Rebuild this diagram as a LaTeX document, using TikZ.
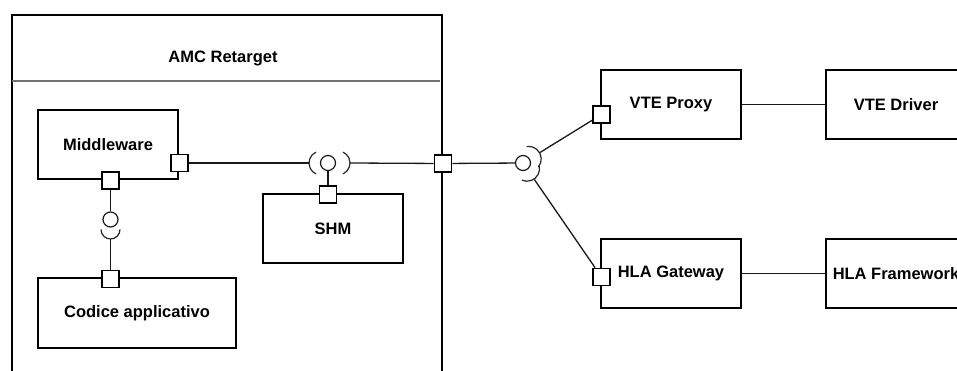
\documentclass[tikz,border=0pt]{standalone}
\usepackage{fontspec}
\setmainfont{Liberation Sans}
\usetikzlibrary{calc}

\begin{document}
\begin{tikzpicture}[x=1pt,y=1pt,
  comp/.style={draw=black, line width=2pt, minimum width=140pt, minimum height=69pt, inner sep=0pt, font=\fontsize{16.5}{19}\selectfont\bfseries},
  port/.style={draw=black, fill=white, line width=1.8pt, minimum size=17pt, inner sep=0pt},
  ball/.style={circle, draw=black!90, line width=1.2pt, minimum size=15pt, inner sep=0pt},
  wire/.style={draw=black!90, line width=1.3pt},
  sock/.style={draw=black!85, line width=1.2pt}]
\useasboundingbox (0,0) rectangle (957,-371);
\node[draw=black, line width=2pt, minimum width=430pt, minimum height=420pt, inner sep=0pt, anchor=north west] (ret) at (11,-14) {};
\node[font=\fontsize{16.5}{19}\selectfont\bfseries] (title) at (223,-58) {AMC Retarget};
\draw[black!55, line width=1.2pt] (12,-81) -- (440,-81);
\node[comp] (mw) at (108,-144.5) {Middleware};
\node[comp, minimum width=198pt, minimum height=70pt] (code) at (137,-313) {Codice applicativo};
\node[comp] (shm) at (333,-228.5) {SHM};
\node[comp] (vp) at (671,-104.5) {VTE Proxy};
\node[comp] (vd) at (896,-104.5) {VTE Driver};
\node[comp] (hg) at (671,-273.5) {HLA Gateway};
\node[comp] (hf) at (896,-273.5) {HLA Framework};
\node[port] (mwR) at (179.5,-163) {};
\node[port] (mwB) at (110.5,-180.5) {};
\node[port] (codeT) at (110.5,-279) {};
\node[port] (shmT) at (328,-194.5) {};
\node[port] (retR) at (443,-163.5) {};
\node[port] (vpL) at (601.5,-114.5) {};
\node[port] (hgL) at (601.5,-277) {};
\node[ball] (b1) at (110.5,-219.5) {};
\node[ball] (b2) at (328,-163) {};
\node[ball] (b3) at (523,-163) {};
\coordinate (s1) at ([yshift=-19.5]b1.center);
\coordinate (s2a) at ([xshift=-19]b2.center);
\coordinate (s2b) at ([xshift=22]b2.center);
\coordinate (s3a) at ($(b3)!20pt!(vpL)$);
\coordinate (s3b) at ($(b3)!20pt!(hgL)$);
\draw[sock] ([yshift=-10]b1.center) ++(180:9.5) arc[start angle=180, end angle=360, radius=9.5];
\draw[sock] ([xshift=-7]b2.center) ++(115:12) arc[start angle=115, end angle=245, radius=12];
\draw[sock] ([xshift=10]b2.center) ++(-65:12) arc[start angle=-65, end angle=65, radius=12];
\draw[sock] ([shift={(35:7)}]b3.center) ++(-40:12.5) arc[start angle=-40, end angle=100, radius=12.5];
\draw[sock] ([shift={(-55:7)}]b3.center) ++(-115:12.5) arc[start angle=-115, end angle=15, radius=12.5];
\draw[wire] (mwB) -- (b1);
\draw[wire] (s1) -- (codeT);
\draw[wire] (mwR) -- (s2a);
\draw[wire] (s2b) -- (retR);
\draw[wire] (b2) -- (shmT);
\draw[wire] (retR) -- (b3);
\draw[wire] (s3a) -- (vpL);
\draw[wire] (s3b) -- (hgL);
\draw[wire] (vp) -- (vd);
\draw[wire] (hg) -- (hf);
\end{tikzpicture}
\end{document}
